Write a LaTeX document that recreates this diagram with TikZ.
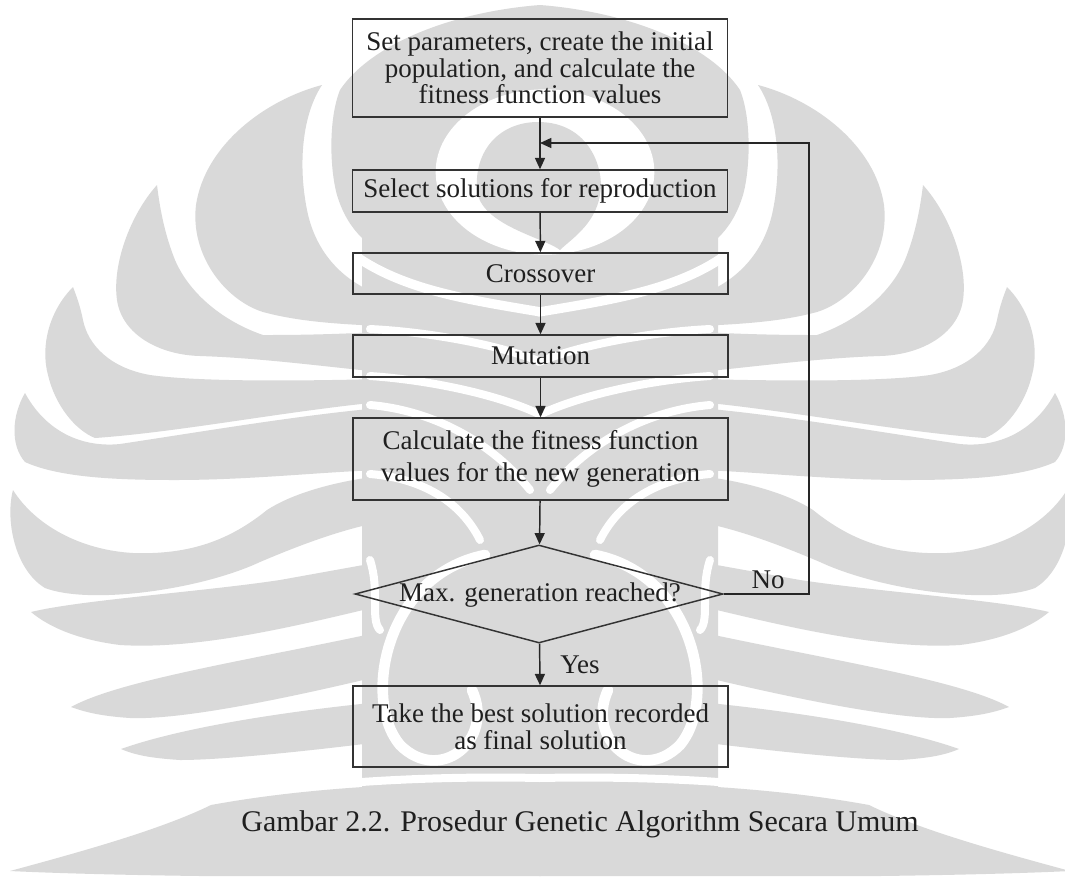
\documentclass[tikz,border=0pt]{standalone}
\usepackage{fontspec}
\setmainfont{Liberation Serif}
\usetikzlibrary{arrows.meta,shapes.geometric}

% one side of the light emblem in the background; the other side is its mirror image
\newcommand{\emblemside}{%
  % body round the flame
  \fill[emblem] (540,5) .. controls (450,12) and (370,45) .. (340,90)
    .. controls (328,120) and (330,170) .. (337,195)
    .. controls (343,215) and (352,228) .. (362,238)
    -- (362,790) -- (541,790) -- (541,5) -- cycle;
  % upper fins, tips pointing up and out
  \fill[emblem] (322,85) .. controls (265,100) and (205,145) .. (196,205)
    .. controls (190,255) and (225,300) .. (263,312)
    .. controls (300,322) and (340,324) .. (380,326) -- (380,295)
    .. controls (340,280) and (315,250) .. (307,210)
    .. controls (298,165) and (302,115) .. (322,85) -- cycle;
  \fill[emblem] (157,185) .. controls (130,215) and (112,265) .. (117,300)
    .. controls (122,335) and (160,355) .. (200,356)
    .. controls (260,358) and (320,366) .. (380,372) -- (380,332)
    .. controls (320,335) and (285,335) .. (263,335)
    .. controls (225,322) and (190,295) .. (175,260)
    .. controls (165,235) and (160,210) .. (157,185) -- cycle;
  \fill[emblem] (73,287) .. controls (50,310) and (40,345) .. (48,375)
    .. controls (55,405) and (75,430) .. (95,438)
    .. controls (180,432) and (280,412) .. (380,402) -- (380,379)
    .. controls (300,381) and (200,382) .. (150,375)
    .. controls (110,368) and (88,345) .. (83,320)
    .. controls (80,305) and (76,295) .. (73,287) -- cycle;
  \fill[emblem] (25,393) .. controls (12,415) and (10,445) .. (25,462)
    .. controls (60,478) and (120,480) .. (175,480)
    .. controls (250,480) and (320,472) .. (380,470) -- (380,408)
    .. controls (300,415) and (200,432) .. (120,444)
    .. controls (80,448) and (45,430) .. (25,393) -- cycle;
  \fill[emblem] (13,490) .. controls (5,520) and (15,570) .. (45,588)
    .. controls (90,605) and (200,590) .. (260,562)
    .. controls (300,545) and (340,530) .. (380,522) -- (380,476)
    .. controls (330,482) and (290,495) .. (267,510)
    .. controls (230,540) and (190,555) .. (133,553)
    .. controls (80,550) and (35,525) .. (13,490) -- cycle;
  % lower fins, tips pointing down and out
  \fill[emblem] (31,612) .. controls (80,600) and (200,592) .. (280,580)
    -- (380,562) -- (380,606)
    .. controls (300,625) and (200,650) .. (120,645)
    .. controls (80,640) and (50,628) .. (31,612) -- cycle;
  \fill[emblem] (71,707) .. controls (120,680) and (250,660) .. (380,632)
    -- (380,676) .. controls (280,700) and (180,720) .. (130,718)
    .. controls (100,716) and (85,712) .. (71,707) -- cycle;
  \fill[emblem] (121,749) .. controls (180,728) and (280,712) .. (380,702)
    -- (380,742) .. controls (300,752) and (220,760) .. (180,760)
    .. controls (150,758) and (135,755) .. (121,749) -- cycle;
  % base band
  \fill[emblem] (211,805) .. controls (320,785) and (440,782) .. (541,782)
    -- (541,876) -- (200,876)
    .. controls (120,875) and (50,873) .. (10,871)
    .. controls (80,852) and (160,830) .. (211,805) -- cycle;
  % seams running into the middle
  \draw[gap,line width=7pt] (350,252) .. controls (400,290) and (470,300) .. (541,312);
  \draw[gap] (370,329) .. controls (430,332) and (500,345) .. (541,362);
  \draw[gap] (370,376) .. controls (430,380) and (500,395) .. (541,415);
  \draw[gap] (370,405) .. controls (430,410) and (490,440) .. (530,490);
  \draw[gap] (370,474) .. controls (420,478) and (460,500) .. (480,540);
  \draw[gap] (370,560) .. controls (380,590) and (370,620) .. (380,630);
  \draw[gap] (200,800) .. controls (330,780) and (440,776) .. (541,778);
  % curl of the lower half, with its dot
  \draw[gap,line width=8pt] (485,555) .. controls (385,575) and (362,700) .. (400,745)
    .. controls (440,785) and (495,740) .. (472,690);
  \fill[emblem] (439,670) circle[radius=9pt];
}

\begin{document}
\begin{tikzpicture}[x=0.75pt,y=-0.75pt,
  emblem/.style={fill=black!15},
  gap/.style={draw=white,line width=6pt,line cap=round},
  txt/.style={text=black!88},
  procbox/.style={draw=black!80,line width=1.1pt,minimum width=281pt,
    inner sep=0pt,align=center,txt,font=\fontsize{20.25pt}{19.9pt}\selectfont},
  decision/.style={diamond,draw=black!80,line width=1.1pt,minimum width=276pt,
    minimum height=73.5pt,inner sep=0pt},
  lbl/.style={txt,inner sep=0pt,font=\fontsize{20.25pt}{20pt}\selectfont},
  arr/.style={draw=black!85,line width=1.1pt,-{Triangle[length=8.5pt,width=7.5pt]}},
  link/.style={draw=black!85,line width=1.1pt}]

\useasboundingbox (0,0) rectangle (1065,876);
\fill[white] (0,0) rectangle (1065,876);

% background emblem
\begin{scope}
  \clip (0,0) rectangle (1065,876);
  \emblemside
  \begin{scope}[shift={(1080,0)},xscale=-1]
    \emblemside
  \end{scope}
  % ring round the flame at the top
  \fill[white] (545,172) ellipse[x radius=82pt,y radius=62pt];
  \fill[emblem] (538,122) .. controls (590,122) and (605,170) .. (600,195)
    .. controls (595,225) and (570,240) .. (560,250)
    .. controls (545,238) and (480,225) .. (477,190)
    .. controls (474,150) and (500,122) .. (538,122) -- cycle;
\end{scope}

% flow chart
\node[procbox,minimum height=73.5pt] (init) at (540,68)
  {Set parameters, create the initial\\population, and calculate the\\fitness function values};
\node[procbox,minimum height=31.5pt] (select) at (540,191)
  {Select solutions for reproduction};
\node[procbox,minimum height=30.75pt] (cross) at (540.5,273.5) {Crossover};
\node[procbox,minimum height=31.5pt] (mut) at (540.5,356) {Mutation};
\node[procbox,minimum height=61.5pt,font=\fontsize{20.25pt}{24pt}\selectfont] (eval) at (540.5,459)
  {Calculate the fitness function\\values for the new generation};
\node[decision] (check) at (539,594) {};
\node[lbl] (checktext) at (540,595) {Max. generation reached?};
\node[procbox,minimum height=60.75pt] (best) at (540.5,726.5)
  {Take the best solution recorded\\as final solution};

\coordinate (join) at (540,143);
\coordinate (loop) at (809,143);

\draw[link] (init) -- (join);
\draw[arr] (join) -- (select);
\draw[arr] (select) -- (cross);
\draw[arr] (cross) -- (mut);
\draw[arr] (mut) -- (eval);
\draw[arr] (eval) -- (check);
\draw[arr] (check) -- (best);
\draw[arr] (check.east) -| (loop) -- (join);

\node[lbl] (yes) at (580,665) {Yes};
\node[lbl] (no) at (768,580) {No};

\node[txt,inner sep=0pt,font=\fontsize{22.5pt}{24pt}\selectfont,anchor=base] (caption) at (580,831)
  {Gambar 2.2. Prosedur Genetic Algorithm Secara Umum};
\end{tikzpicture}
\end{document}
